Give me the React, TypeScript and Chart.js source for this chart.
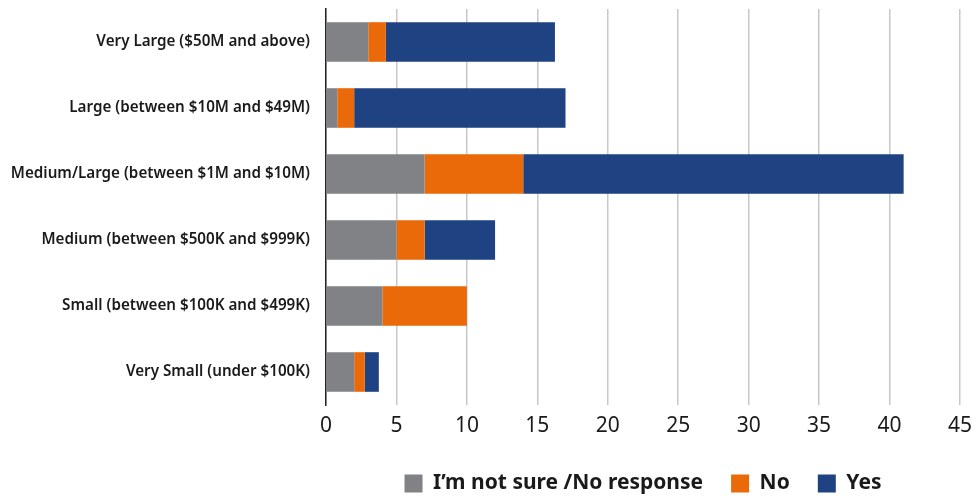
import React, { useEffect, useRef } from 'react';
import { Chart, registerables } from 'chart.js';

Chart.register(...registerables);

const categories = [
  'Very Large ($50M and above)',
  'Large (between $10M and $49M)',
  'Medium/Large (between $1M and $10M)',
  'Medium (between $500K and $999K)',
  'Small (between $100K and $499K)',
  'Very Small (under $100K)',
];

const seriesNames = ['I’m not sure /No response', 'No', 'Yes'];
const notSureValues = [3, 0.8, 7, 5, 4, 2];
const noValues = [1.25, 1.2, 7, 2, 6, 0.75];
const yesValues = [12, 15, 27, 5, 0, 1];

const xMin = 0;
const xMax = 45;
const xStep = 5;

const FONT = "'Noto Sans', 'Open Sans', sans-serif";

export default function App() {
  const ref = useRef<HTMLCanvasElement>(null);

  useEffect(() => {
    if (!ref.current) return;
    const chart = new Chart(ref.current, {
      type: 'bar',
      data: {
        labels: categories,
        datasets: [
          { label: seriesNames[0], data: notSureValues, backgroundColor: '#808285' },
          { label: seriesNames[1], data: noValues, backgroundColor: '#EA6A0A' },
          { label: seriesNames[2], data: yesValues, backgroundColor: '#1E4282' },
        ],
      },
      options: {
        indexAxis: 'y',
        animation: false,
        responsive: false,
        maintainAspectRatio: false,
        layout: { padding: { top: 9, right: 30, left: 0, bottom: 0 } },
        datasets: { bar: { barPercentage: 0.6, categoryPercentage: 1 } },
        scales: {
          x: {
            stacked: true,
            min: xMin,
            max: xMax,
            ticks: {
              stepSize: xStep,
              color: '#1a1a1a',
              padding: 8,
              font: { family: FONT, size: 21 },
            },
            grid: { color: '#c8c8c8', lineWidth: 1.5, drawTicks: false },
            border: { display: false },
            afterFit: (scale: any) => {
              scale.height = 40;
            },
          },
          y: {
            stacked: true,
            grid: { display: false, drawTicks: false },
            border: { display: true, color: '#222', width: 1.5 },
            ticks: {
              padding: 16,
              color: '#1a1a1a',
              font: { family: FONT, size: 15.2, weight: 600 },
            },
            afterFit: (scale: any) => {
              scale.width = 326;
              scale.paddingTop = 0;
              scale.paddingBottom = 0;
            },
          },
        },
        plugins: {
          legend: {
            position: 'bottom',
            fullSize: false,
            labels: {
              boxWidth: 18,
              boxHeight: 18,
              padding: 28,
              color: '#1a1a1a',
              font: { family: FONT, size: 21, weight: 'bold' },
            },
          },
          tooltip: { enabled: false },
        },
      } as any,
    });
    return () => chart.destroy();
  }, []);

  return (
    <div
      style={{
        position: 'fixed',
        left: 0,
        top: 0,
        width: 977,
        height: 496,
        overflow: 'hidden',
        background: '#fff',
      }}
    >
      <canvas ref={ref} width={990} height={504} style={{ display: 'block' }} />
    </div>
  );
}
